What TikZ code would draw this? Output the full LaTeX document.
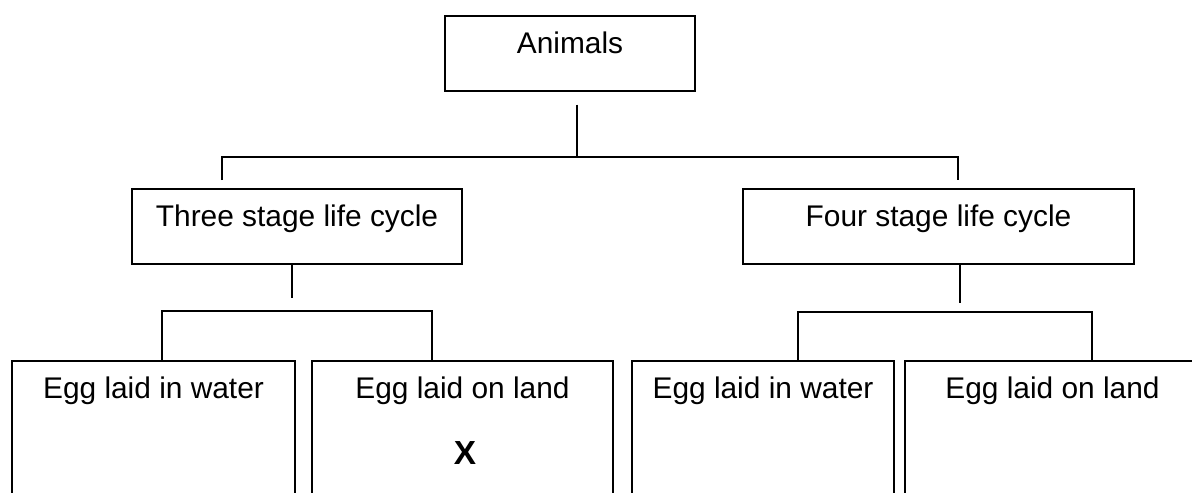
\documentclass[tikz,border=0pt]{standalone}
\usepackage{fontspec}
\setmainfont{Liberation Sans}
\begin{document}
\begin{tikzpicture}[x=0.02cm,y=-0.02cm]
        \tikzstyle{every node}+=[inner sep=0pt, font=\fontsize{17}{20}\selectfont]
        \tikzstyle{box}=[draw=black, line width=1pt, anchor=north, text height=0.76cm, text depth=0.74cm]
        \tikzstyle{tallbox}=[box, text depth=3cm]
        \tikzstyle{link}=[black, line width=1pt]
        \path [use as bounding box, clip] (0,0) rectangle (1192,493);
        \node [box, minimum width=5cm] (animals) at (570,15) {Animals};
        \node [box, minimum width=6.6cm] (three) at (297,188) {Three stage life cycle};
        \node [box, minimum width=7.82cm] (four) at (938.5,188) {Four stage life cycle};
        \node [tallbox, minimum width=5.66cm] (waterA) at (153.5,360) {Egg laid in water};
        \node [tallbox, minimum width=6.02cm] (landA) at (462.5,360) {Egg laid on land};
        \node [tallbox, minimum width=5.24cm] (waterB) at (763,360) {Egg laid in water};
        \node [tallbox, minimum width=5.9cm] (landB) at (1052.5,360) {Egg laid on land};
        \node [font=\fontsize{19}{22}\selectfont\bfseries] (xmark) at (465,453) {X};
        \coordinate (topjoin) at (577,157);
        \coordinate (leftdrop) at (222,157);
        \coordinate (rightdrop) at (958,157);
        \coordinate (threestub) at (292,298);
        \coordinate (fourstub) at (960,303);
        \coordinate (lowleftA) at (162,311);
        \coordinate (lowrightA) at (432,311);
        \coordinate (lowleftB) at (798,312);
        \coordinate (lowrightB) at (1092,312);
        \draw [link, shorten <=0.26cm] (animals.south -| topjoin) -- (topjoin);
        \draw [link, shorten <=0.16cm, shorten >=0.16cm] (three.north -| leftdrop) |- (topjoin) -| (four.north -| rightdrop);
        \draw [link] (three.south -| threestub) -- (threestub);
        \draw [link] (waterA.north -| lowleftA) -- (lowleftA) -- (lowrightA) -- (landA.north -| lowrightA);
        \draw [link] (four.south -| fourstub) -- (fourstub);
        \draw [link] (waterB.north -| lowleftB) -- (lowleftB) -- (lowrightB) -- (landB.north -| lowrightB);
\end{tikzpicture}
\end{document}
